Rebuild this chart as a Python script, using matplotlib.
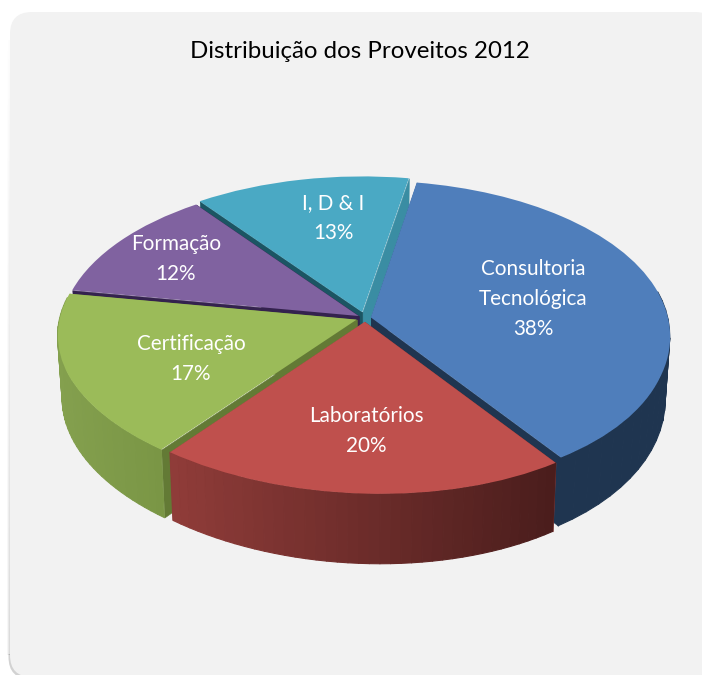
import numpy as np
import matplotlib
matplotlib.use("Agg")
import matplotlib.pyplot as plt
from matplotlib.collections import PolyCollection
from matplotlib.patches import FancyBboxPatch, Rectangle
from matplotlib.transforms import Transform
from matplotlib.colors import to_rgb

# data
title = "Distribuição dos Proveitos 2012"
categories = ["Consultoria\nTecnológica", "Laboratórios", "Certificação", "Formação", "I, D & I"]
values = [38, 20, 17, 12, 13]

# styles
explode = [0.02, 0.025, 0.03, 0.025, 0.04]
top_colors = ["#4f7ebb", "#bf504d", "#9bbb59", "#8062a0", "#4aa9c4"]
wall_left = ["#1f3550", "#903c39", "#84a04e", "#34224e", "#3a8da3"]
wall_right = ["#1f3550", "#4a1d1c", "#7a9645", "#34224e", "#3a8da3"]
cut_right = ["#1f3550", "#4a1d1c", "#637a35", "#34224e", "#3a8da3"]   # edge at theta1
cut_left = ["#1f3550", "#8c3a37", "#637a35", "#34224e", "#1b5563"]    # edge at theta2
layer = [2, 4, 3, 1, 0]
label_pos = [(533, 299), (366, 431), (191, 359), (176, 259), (333, 218)]

CX, CY, A, B, K, D = 365.0, 318.0, 297.0, 152.0, 0.111, 62.0


class Persp(Transform):
    input_dims = output_dims = 2
    is_affine = False
    has_inverse = False

    def transform_non_affine(self, xy):
        xy = np.asarray(xy, float)
        w = 1 + K * xy[:, 1]
        front = np.minimum(xy[:, 1], 0) ** 2
        return np.column_stack([CX + A * xy[:, 0] / w + 15 * front, CY - B * xy[:, 1] / w])


persp = Persp()


def extrude(x, y):
    """Screen points of the rim and of the rim pushed down by the pie's depth."""
    p = persp.transform(np.column_stack([x, y]))
    w = 1 + K * np.asarray(y)
    q = np.column_stack([CX + (p[:, 0] - CX) * 0.985, p[:, 1] + D / w])
    return p, q


fig = plt.figure(figsize=(7.02, 6.75), dpi=100, facecolor="white")
ax = fig.add_axes([0, 0, 1, 1])

wedges, _ = ax.pie(values, explode=explode, startangle=80, counterclock=False,
                   colors=top_colors, radius=1.0, frame=False,
                   wedgeprops=dict(linewidth=0))

# soft left shadow of the panel, strengthening downwards
ramp = np.zeros((256, 6, 4))
ramp[..., :3] = 0.3
ramp[..., 3] = np.linspace(0.02, 0.30, 256)[:, None] * np.linspace(0.1, 1, 6)[None, :]
ax.imshow(ramp, extent=(7, 10.5, 655, 40), aspect="auto", zorder=0.1, interpolation="bilinear")
corner = FancyBboxPatch((8.5, 560), 720, 119, boxstyle="round,pad=0,rounding_size=22",
                        fc=(0.3, 0.3, 0.3, 0.25), ec="none", zorder=0.1)
ax.add_patch(corner)
corner.set_clip_path(Rectangle((0, 654), 60, 25, transform=ax.transData))

ax.add_patch(FancyBboxPatch((10, 12), 707, 665, boxstyle="round,pad=0,rounding_size=22",
                            fc="#f2f2f2", ec="none", zorder=0.2))

ax.set_aspect("auto")
ax.set_xlim(0, 702)
ax.set_ylim(675, 0)
ax.axis("off")

for i, w in enumerate(wedges):
    z = 1 + layer[i]
    cx0, cy0 = w.center
    t = np.radians(np.linspace(w.theta1, w.theta2, 40))
    x = cx0 + w.r * np.cos(t)
    y = cy0 + w.r * np.sin(t)
    # radial cut faces
    for th, col in ((w.theta1, cut_right[i]), (w.theta2, cut_left[i])):
        rx = cx0 + np.array([0, w.r]) * np.cos(np.radians(th))
        ry = cy0 + np.array([0, w.r]) * np.sin(np.radians(th))
        p, q = extrude(rx, ry)
        ax.add_collection(PolyCollection([[p[0], p[1], q[1], q[0]]], facecolors=col, edgecolors=col,
                                         linewidths=0.4, zorder=z))
    # outer wall (only the side facing the viewer), gradient along screen x
    p, q = extrude(x, y)
    xmin, xmax = p[:, 0].min(), p[:, 0].max()
    c0, c1 = np.array(to_rgb(wall_left[i])), np.array(to_rgb(wall_right[i]))
    polys, cols = [], []
    for j in range(len(t) - 1):
        if y[j] > 0.12 and y[j + 1] > 0.12:
            continue
        polys.append([p[j], p[j + 1], q[j + 1], q[j]])
        f = ((p[j, 0] + p[j + 1, 0]) / 2 - xmin) / max(xmax - xmin, 1)
        cols.append(c0 + (c1 - c0) * f)
    if polys:
        ax.add_collection(PolyCollection(polys, facecolors=cols, edgecolors=cols, linewidths=0.8, zorder=z + 0.1))
    # top face drawn by pie
    w.set_transform(persp + ax.transData)
    w.set_zorder(z + 0.2)
    w.set_clip_on(False)

for name, v, pos in zip(categories, values, label_pos):
    ax.text(pos[0], pos[1], f"{name}\n{v}%", color="white", ha="center", va="center",
            family="Lato", fontsize=14.9, linespacing=1.6, zorder=10)

ax.text(360, 52, title, color="black", ha="center", va="center", family="Lato", fontsize=17.3, zorder=10)

fig.savefig("out.png", dpi=100, facecolor="white")
